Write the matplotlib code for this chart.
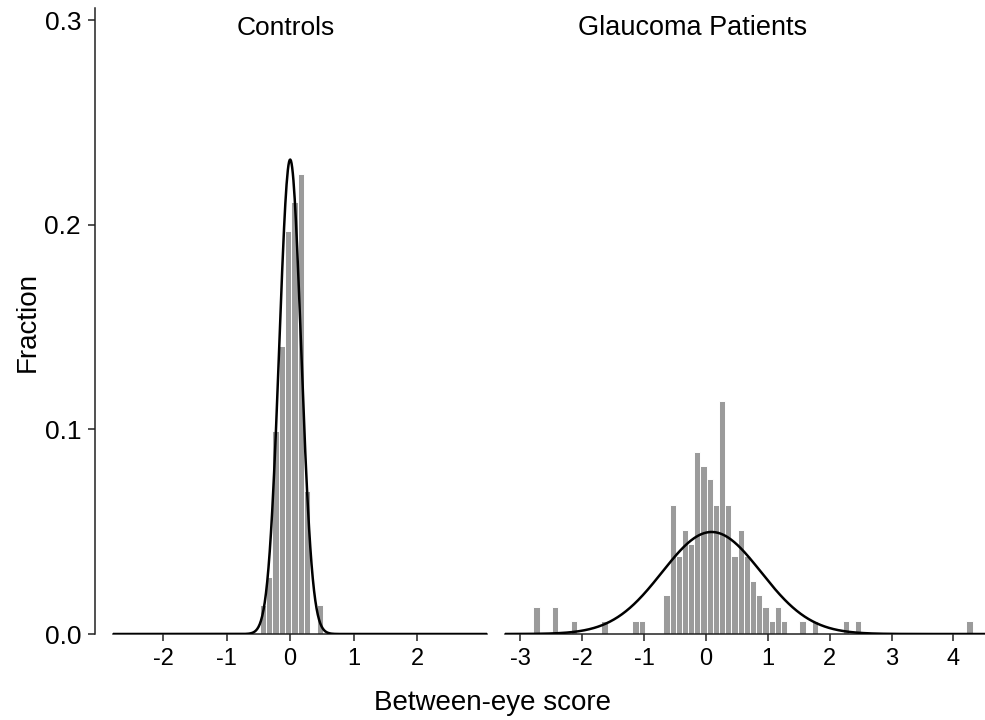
"""Between-eye score histograms: controls vs glaucoma patients, with normal overlays."""

import numpy as np
import matplotlib

matplotlib.use("Agg")
import matplotlib.pyplot as plt  # noqa: E402

plt.rcParams["font.family"] = ["Liberation Sans", "DejaVu Sans"]
plt.rcParams["axes.unicode_minus"] = False

# --- data (fraction per 0.1-wide bin) ----------------------------------------
bin_width = 0.1

controls_start = -0.48
controls_frac = [0.014, 0.028, 0.099, 0.141, 0.197, 0.211, 0.225, 0.070, 0.0, 0.014]
controls_mean, controls_sd = 0.0, 0.172

glaucoma_start = -2.79
glaucoma_bins = [0, 3, 6, 11, 16, 17,
                 21, 22, 23, 24, 25, 26, 27, 28, 29, 30,
                 31, 32, 33, 34, 35, 36, 37, 38, 39, 40,
                 43, 45, 50, 52, 70]
glaucoma_frac = [0.013, 0.013, 0.0065, 0.0065, 0.0065, 0.0065,
                 0.019, 0.063, 0.038, 0.051, 0.044, 0.089, 0.082, 0.076, 0.063, 0.114,
                 0.063, 0.038, 0.051, 0.038, 0.026, 0.019, 0.013, 0.0065, 0.013, 0.0065,
                 0.0065, 0.0065, 0.0065, 0.0065, 0.0065]
glaucoma_mean, glaucoma_sd = 0.09, 0.80

controls_xlim = (-2.79, 3.10)
glaucoma_xlim = (-3.25, 4.51)
controls_ticks = [-2, -1, 0, 1, 2]
glaucoma_ticks = [-3, -2, -1, 0, 1, 2, 3, 4]
y_ticks = [0.0, 0.1, 0.2, 0.3]
y_max = 0.306

BAR = "#9b9b9b"
AXIS = "#222222"


def _normal_fraction(x, mean, sd):
    """Normal density scaled to a fraction per bin."""
    return bin_width * np.exp(-0.5 * ((x - mean) / sd) ** 2) / (sd * np.sqrt(2 * np.pi))


def _panel(ax, lefts, fracs, mean, sd, xlim, ticks):
    ax.bar(lefts, fracs, width=bin_width, align="edge", color=BAR,
           edgecolor="white", linewidth=0.7, zorder=2)
    x = np.linspace(xlim[0], xlim[1], 600)
    ax.plot(x, _normal_fraction(x, mean, sd), color="black", linewidth=1.8, zorder=3)
    ax.set_xlim(*xlim)
    ax.set_ylim(0, y_max)
    ax.set_xticks(ticks)
    ax.set_xticklabels([str(t) for t in ticks])
    for side in ("top", "right"):
        ax.spines[side].set_visible(False)
    ax.spines["bottom"].set_linewidth(1.1)
    ax.spines["bottom"].set_color(AXIS)
    ax.tick_params(axis="x", length=5, width=1.1, color=AXIS, labelsize=17, pad=5)


fig = plt.figure(figsize=(9.85, 7.2), dpi=100)
ax1 = fig.add_axes([113 / 985, 1 - 634 / 720, (487 - 113) / 985, (634 - 8) / 720])
ax2 = fig.add_axes([505 / 985, 1 - 634 / 720, (985 - 505) / 985, (634 - 8) / 720])

c_lefts = [controls_start + bin_width * i for i in range(len(controls_frac))]
g_lefts = [glaucoma_start + bin_width * k for k in glaucoma_bins]
_panel(ax1, c_lefts, controls_frac, controls_mean, controls_sd, controls_xlim, controls_ticks)
_panel(ax2, g_lefts, glaucoma_frac, glaucoma_mean, glaucoma_sd, glaucoma_xlim, glaucoma_ticks)

ax1.spines["left"].set_position(("outward", 13))
ax1.spines["left"].set_linewidth(1.1)
ax1.spines["left"].set_color(AXIS)
ax1.set_yticks(y_ticks)
ax1.set_yticklabels([f"{v:.1f}" for v in y_ticks])
ax1.tick_params(axis="y", length=5, width=1.1, color=AXIS, labelsize=19, pad=5)

ax2.spines["left"].set_visible(False)
ax2.set_yticks([])

fig.text(286 / 985, 1 - 28 / 720, "Controls", ha="center", va="center", fontsize=19)
fig.text(693 / 985, 1 - 28 / 720, "Glaucoma Patients", ha="center", va="center", fontsize=19.5)
fig.text(492 / 985, 1 - 703 / 720, "Between-eye score", ha="center", va="center", fontsize=20)
fig.text(28 / 985, 1 - 322 / 720, "Fraction", ha="center", va="center",
         rotation=90, fontsize=20)

fig.savefig("out.png", dpi=100)
plt.close(fig)
